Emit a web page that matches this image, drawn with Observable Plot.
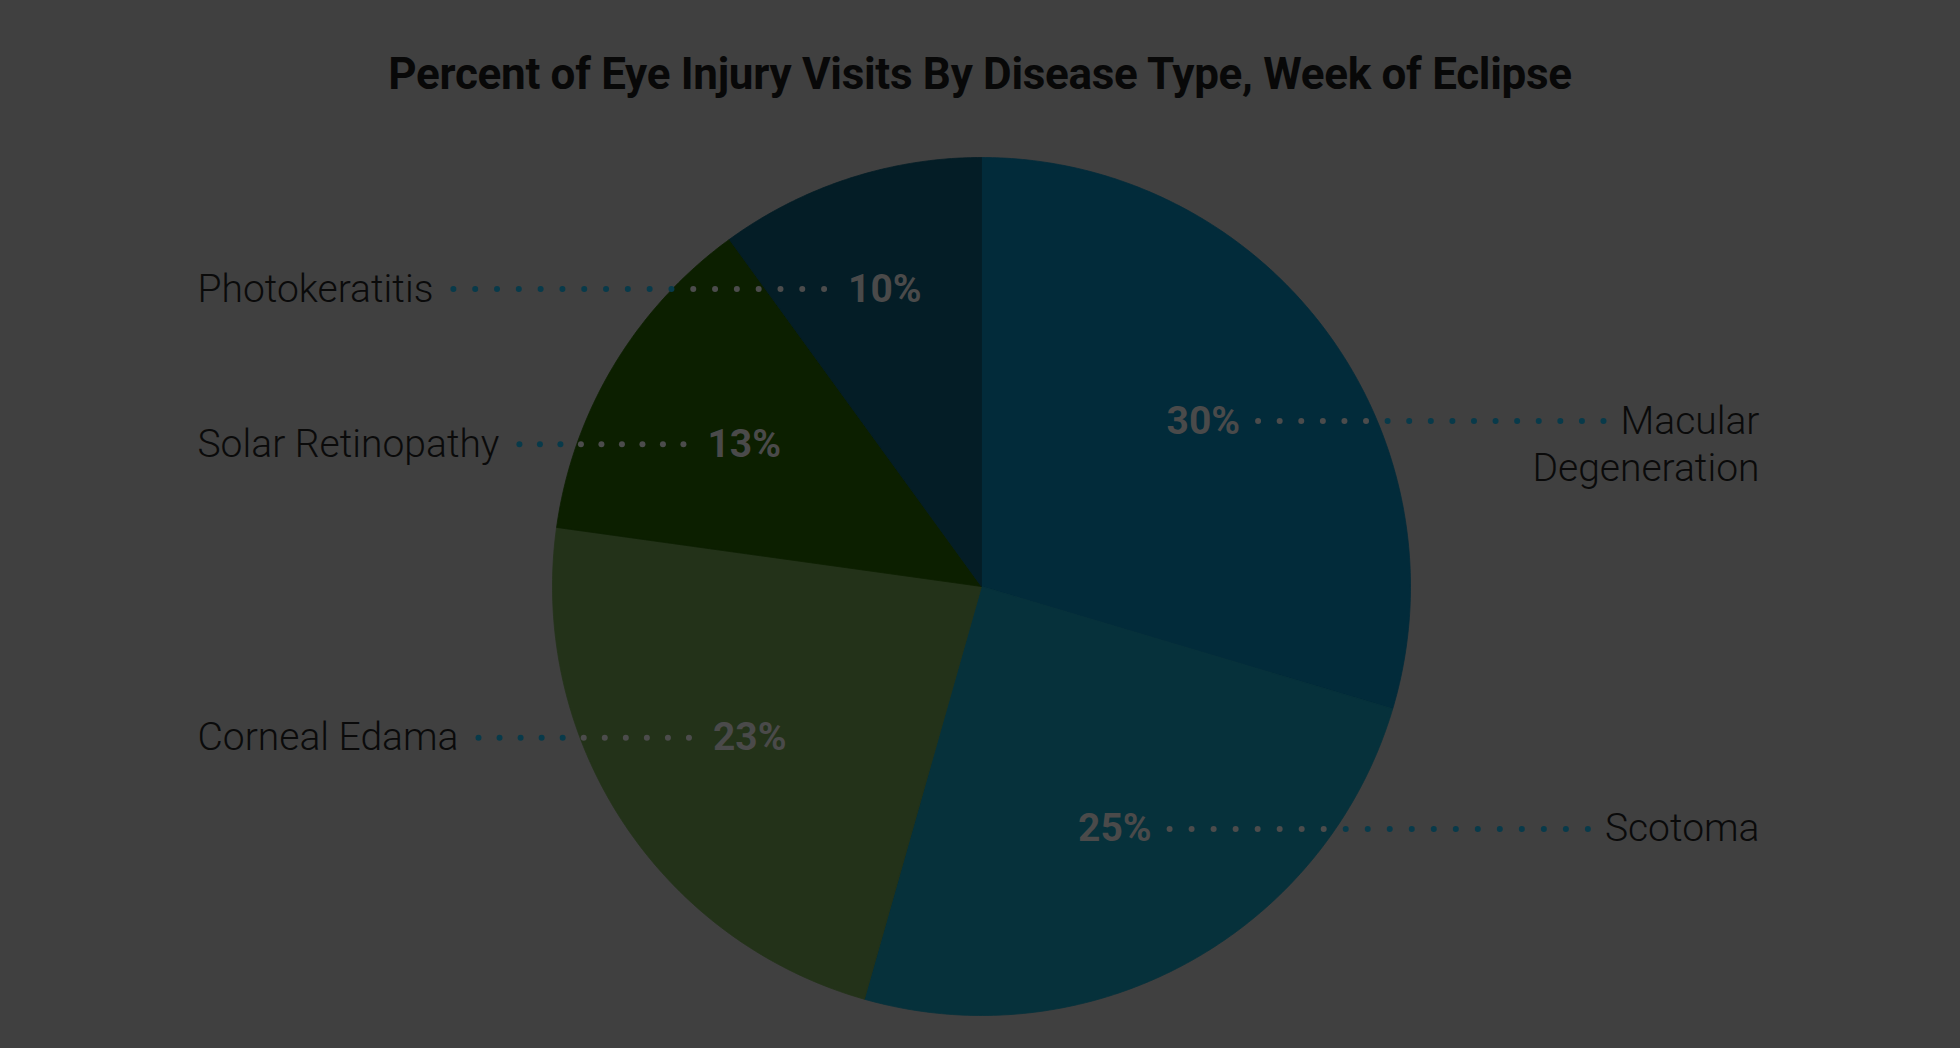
<!DOCTYPE html>
<html><head><meta charset="utf-8">
<script src="https://cdn.jsdelivr.net/npm/d3@7"></script>
<script src="https://cdn.jsdelivr.net/npm/@observablehq/plot@0.6"></script>
<style>
html,body{margin:0;padding:0;background:#404040;}
#title{width:1960px;height:120px;box-sizing:border-box;padding-top:52px;text-align:center;font-family:Roboto,"Noto Sans",sans-serif;font-weight:700;font-size:44px;line-height:1;color:#080808;letter-spacing:-0.3px;}
#chart svg{display:block;}
</style></head><body>
<div id="title">Percent of Eye Injury Visits By Disease Type, Week of Eclipse</div>
<div id="chart"></div>
<script>
// ---- data ----
const categories = ["Macular Degeneration", "Scotoma", "Corneal Edama", "Solar Retinopathy", "Photokeratitis"];
const categoryLines = [["Macular", "Degeneration"], ["Scotoma"], ["Corneal Edama"], ["Solar Retinopathy"], ["Photokeratitis"]];
const shares = [29.6, 24.8, 22.8, 12.8, 10.0];
const percentLabels = ["30%", "25%", "23%", "13%", "10%"];
const sliceColors = ["#022b3a", "#06313b", "#233219", "#0c1f00", "#041d26"];

// ---- layout ----
const W = 1960, H = 928, CX = 981, CY = 466, R = 429;
const LEFT_X = 197, RIGHT_X = 1759;
const LABEL_R = 0.645;
const LABEL_SIZE = 39, PCT_SIZE = 39, LINE_H = 47;
const labelFont = `300 ${LABEL_SIZE}px Roboto`;
const pctFont = `700 ${PCT_SIZE}px Roboto`;
const ctx = document.createElement("canvas").getContext("2d");
function tw(text, font) { ctx.font = font; return ctx.measureText(text).width; }
const toX = px => (px - CX) / R;
const toY = py => (CY - py) / R;
const fromX = x => CX + x * R;

const arcs = d3.pie().sort(null).value(d => d)(shares);

// slice polygons
const polys = [];
arcs.forEach((a, i) => {
  const k = categories[i];
  polys.push({k, x: 0, y: 0});
  const n = Math.max(2, Math.ceil((a.endAngle - a.startAngle) / (Math.PI / 360)));
  for (let j = 0; j <= n; j++) {
    const t = a.startAngle + (a.endAngle - a.startAngle) * j / n;
    polys.push({k, x: Math.sin(t), y: Math.cos(t)});
  }
  polys.push({k, x: 0, y: 0});
});

// labels
const pct = [], lines = [], dotsIn = [], dotsOut = [];
arcs.forEach((a, i) => {
  const m = (a.startAngle + a.endAngle) / 2;
  const pw = tw(percentLabels[i], pctFont);
  // push a label outward when its wedge is too narrow for the text
  const fit = 2.67 * pw / (a.endAngle - a.startAngle) / R;
  const r = Math.max(LABEL_R, fit);
  const x = Math.sin(m) * r, y = Math.cos(m) * r;
  pct.push({x, y, t: percentLabels[i]});
  const right = Math.sin(m) >= 0;
  categoryLines[i].forEach((t, li) => {
    lines.push({x: toX(right ? RIGHT_X : LEFT_X), y: y - li * LINE_H / R, t, anchor: right ? "end" : "start"});
  });
  const lw = tw(categoryLines[i][0], labelFont);
  const pcx = fromX(x);
  let s, e;
  if (right) { s = pcx + pw / 2 + 18; e = RIGHT_X - lw - 17; }
  else { s = LEFT_X + lw + 20; e = pcx - pw / 2 - 24; }
  const n = Math.max(1, Math.round((e - s) / 21.5));
  for (let j = 0; j <= n; j++) {
    const px = s + (e - s) * j / n;
    const d = {x: toX(px), y};
    (Math.hypot(d.x, d.y) < 1 ? dotsIn : dotsOut).push(d);
  }
});

const lefts = lines.filter(d => d.anchor === "start");
const rights = lines.filter(d => d.anchor === "end");

const chart = Plot.plot({
  width: W, height: H, margin: 0,
  style: {background: "transparent"},
  x: {domain: [toX(0), toX(W)], axis: null},
  y: {domain: [toY(H), toY(0)], axis: null},
  color: {domain: categories, range: sliceColors},
  marks: [
    Plot.line(polys, {x: "x", y: "y", z: "k", fill: "k", stroke: "k", strokeWidth: 0.8}),
    Plot.dot(dotsIn, {x: "x", y: "y", r: 3, fill: "#4c4c4c", stroke: null}),
    Plot.dot(dotsOut, {x: "x", y: "y", r: 3, fill: "#083a4a", stroke: null}),
    Plot.text(pct, {x: "x", y: "y", text: "t", fill: "#4a4a4a", fontSize: PCT_SIZE, fontWeight: 700, fontFamily: "Roboto", textAnchor: "middle", lineAnchor: "middle"}),
    Plot.text(lefts, {x: "x", y: "y", text: "t", fill: "#0a0a0a", fontSize: LABEL_SIZE, fontWeight: 300, fontFamily: "Roboto", textAnchor: "start", lineAnchor: "middle"}),
    Plot.text(rights, {x: "x", y: "y", text: "t", fill: "#0a0a0a", fontSize: LABEL_SIZE, fontWeight: 300, fontFamily: "Roboto", textAnchor: "end", lineAnchor: "middle"})
  ]
});
document.getElementById("chart").appendChild(chart);
</script>
</body></html>
